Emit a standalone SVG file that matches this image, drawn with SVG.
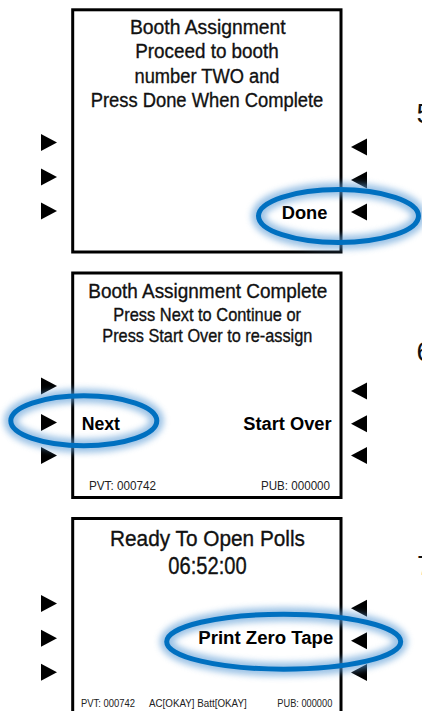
<svg xmlns="http://www.w3.org/2000/svg" width="422" height="711" viewBox="0 0 422 711">
  <defs>
    <filter id="glow" x="-30%" y="-60%" width="160%" height="220%">
      <feGaussianBlur stdDeviation="3.2"/>
    </filter>
    <polygon id="triR" points="41,-8.5 57,0 41,8.5"/>
    <polygon id="triL" points="367,-8.5 351,0 367,8.5"/>
  </defs>
  <style>
    .screen { fill: #ffffff; stroke: #000000; stroke-width: 3; }
    .tri { fill: #000000; }
    .title { font-family: "Liberation Sans", Arial, sans-serif; fill: #111111; stroke: #111111; stroke-width: 0.35; text-anchor: middle; }
    .btn { font-family: "Liberation Sans", Arial, sans-serif; font-weight: bold; font-size: 18px; fill: #000000; }
    .foot { font-family: "Liberation Sans", Arial, sans-serif; fill: #222222; }
    .step { font-family: "Liberation Sans", Arial, sans-serif; font-size: 28px; fill: #111111; }
    .halo { fill: none; stroke: #5B9BD5; stroke-width: 14; opacity: 0.6; filter: url(#glow); }
    .ring { fill: none; stroke: #0070C0; stroke-width: 5; }
  </style>

  <rect width="422" height="711" fill="#ffffff"/>

  <g id="screen-booth-assignment">
    <rect class="screen" x="72.7" y="9.8" width="268.3" height="242.2"/>
    <text class="title" font-size="20.5" x="207.8" y="34" textLength="155.7" lengthAdjust="spacingAndGlyphs">Booth Assignment</text>
    <text class="title" font-size="20.5" x="207" y="58.3" textLength="143.7" lengthAdjust="spacingAndGlyphs">Proceed to booth</text>
    <text class="title" font-size="20.5" x="207" y="82.7" textLength="145" lengthAdjust="spacingAndGlyphs">number TWO and</text>
    <text class="title" font-size="20.5" x="207" y="106.7" textLength="232.7" lengthAdjust="spacingAndGlyphs">Press Done When Complete</text>
    <use href="#triR" class="tri" y="142.5"/>
    <use href="#triR" class="tri" y="177"/>
    <use href="#triR" class="tri" y="211"/>
    <use href="#triL" class="tri" y="147"/>
    <use href="#triL" class="tri" y="180"/>
    <use href="#triL" class="tri" y="212"/>
    <text class="btn" x="281.7" y="219" textLength="45.7" lengthAdjust="spacingAndGlyphs">Done</text>
    <text class="step" x="416.5" y="123">5</text>
  </g>

  <g id="screen-booth-assignment-complete">
    <rect class="screen" x="72.7" y="273" width="268.3" height="224.5"/>
    <text class="title" font-size="21" x="207.8" y="298.3" textLength="239" lengthAdjust="spacingAndGlyphs">Booth Assignment Complete</text>
    <text class="title" font-size="18.5" x="207.2" y="320.7" textLength="187.7" lengthAdjust="spacingAndGlyphs">Press Next to Continue or</text>
    <text class="title" font-size="18.5" x="207.3" y="342.3" textLength="210" lengthAdjust="spacingAndGlyphs">Press Start Over to re-assign</text>
    <use href="#triR" class="tri" y="386"/>
    <use href="#triR" class="tri" y="422.5"/>
    <use href="#triR" class="tri" y="455.5"/>
    <use href="#triL" class="tri" y="391"/>
    <use href="#triL" class="tri" y="423.7"/>
    <use href="#triL" class="tri" y="455.5"/>
    <text class="btn" x="81.7" y="430" textLength="38.3" lengthAdjust="spacingAndGlyphs">Next</text>
    <text class="btn" x="243.3" y="430" textLength="88.3" lengthAdjust="spacingAndGlyphs">Start Over</text>
    <text class="foot" font-size="12" x="89" y="490" textLength="67" lengthAdjust="spacingAndGlyphs">PVT: 000742</text>
    <text class="foot" font-size="12" x="261" y="490" textLength="69" lengthAdjust="spacingAndGlyphs">PUB: 000000</text>
    <text class="step" x="416.5" y="361">6</text>
  </g>

  <g id="screen-ready-to-open-polls">
    <rect class="screen" x="72.7" y="518.5" width="268.3" height="200"/>
    <text class="title" font-size="22.5" x="207.5" y="546" textLength="195" lengthAdjust="spacingAndGlyphs">Ready To Open Polls</text>
    <text class="title" font-size="23" x="207.5" y="574.3" textLength="78.3" lengthAdjust="spacingAndGlyphs">06:52:00</text>
    <use href="#triR" class="tri" y="603.5"/>
    <use href="#triR" class="tri" y="638.3"/>
    <use href="#triR" class="tri" y="672.3"/>
    <use href="#triL" class="tri" y="608.3"/>
    <use href="#triL" class="tri" y="640.8"/>
    <use href="#triL" class="tri" y="672.5"/>
    <text class="btn" x="198.3" y="644" textLength="135" lengthAdjust="spacingAndGlyphs">Print Zero Tape</text>
    <text class="foot" font-size="11" x="81" y="706.7" textLength="54" lengthAdjust="spacingAndGlyphs">PVT: 000742</text>
    <text class="foot" font-size="11" x="149" y="706.7" textLength="97.7" lengthAdjust="spacingAndGlyphs">AC[OKAY] Batt[OKAY]</text>
    <text class="foot" font-size="11" x="277.3" y="706.7" textLength="55" lengthAdjust="spacingAndGlyphs">PUB: 000000</text>
    <text class="step" x="417" y="575">7</text>
  </g>

  <g id="highlights">
    <ellipse class="halo" cx="338.5" cy="216" rx="80" ry="26.5"/>
    <ellipse class="ring" cx="338.5" cy="216" rx="80" ry="26.5"/>
    <ellipse class="halo" cx="83.8" cy="420.8" rx="73" ry="25"/>
    <ellipse class="ring" cx="83.8" cy="420.8" rx="73" ry="25"/>
    <ellipse class="halo" cx="283.7" cy="641.7" rx="117" ry="27.5"/>
    <ellipse class="ring" cx="283.7" cy="641.7" rx="117" ry="27.5"/>
  </g>
</svg>
